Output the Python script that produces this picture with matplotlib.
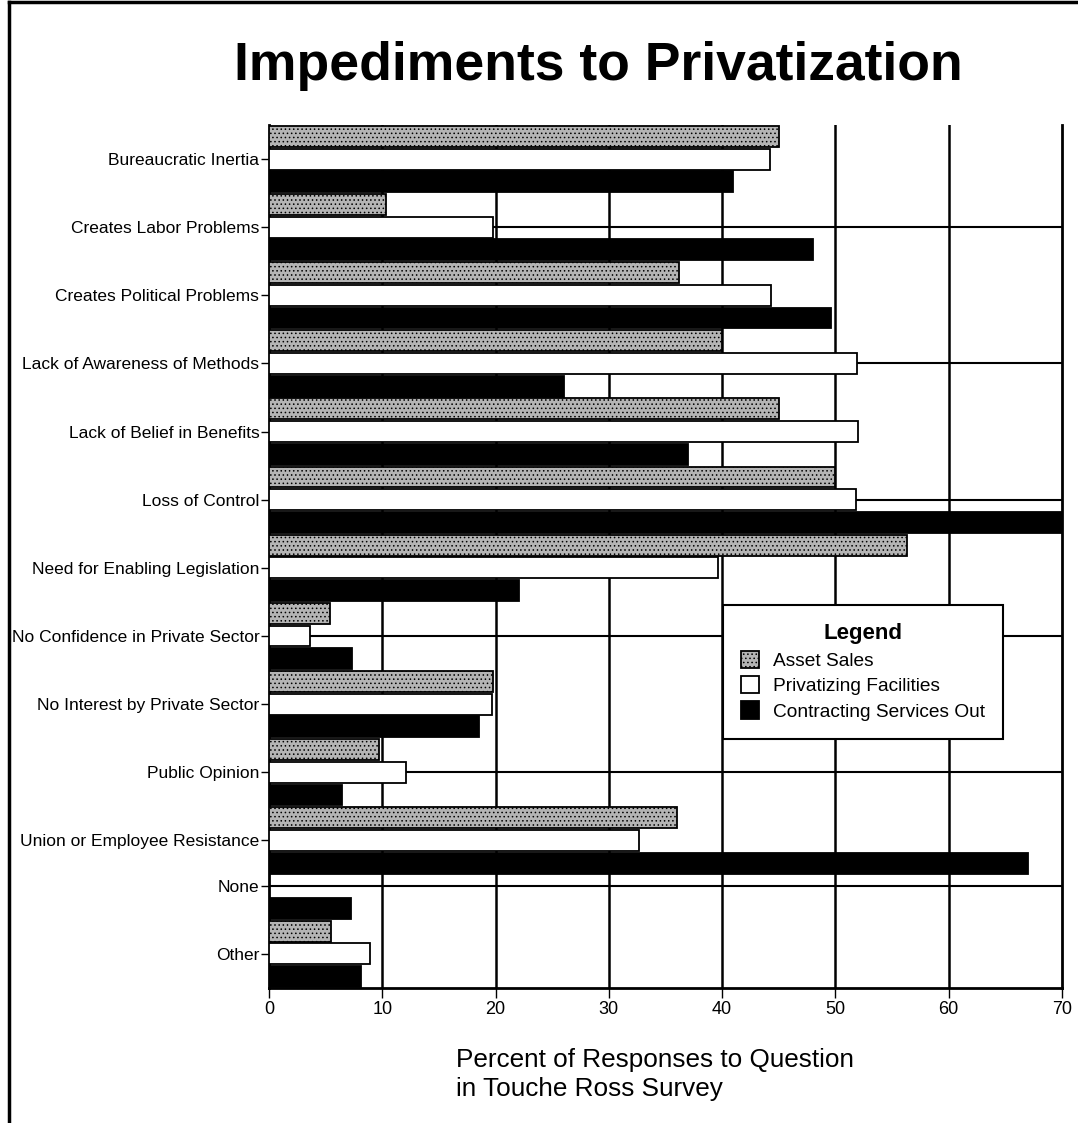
import matplotlib
matplotlib.use("Agg")
import matplotlib.pyplot as plt
from matplotlib.lines import Line2D

# Data (percent of responses)
categories = [
    "Bureaucratic Inertia",
    "Creates Labor Problems",
    "Creates Political Problems",
    "Lack of Awareness of Methods",
    "Lack of Belief in Benefits",
    "Loss of Control",
    "Need for Enabling Legislation",
    "No Confidence in Private Sector",
    "No Interest by Private Sector",
    "Public Opinion",
    "Union or Employee Resistance",
    "None",
    "Other",
]
asset_sales = [45, 10.3, 36.2, 40, 45, 50, 56.3, 5.4, 19.8, 9.7, 36, None, 5.5]
privatizing = [44.2, 19.8, 44.3, 51.9, 52, 51.8, 39.6, 3.6, 19.7, 12.1, 32.7, 0, 8.9]
contracting = [41, 48, 49.6, 26, 37, 70, 22.1, 7.3, 18.5, 6.4, 67, 7.2, 8.1]
series_names = ["Asset Sales", "Privatizing Facilities", "Contracting Services Out"]
x_ticks = [0, 10, 20, 30, 40, 50, 60, 70]

REGULAR = ["Liberation Sans", "DejaVu Sans"]
plt.rcParams["hatch.linewidth"] = 0.6

fig = plt.figure(figsize=(10.78, 11.23), dpi=100)
W, H = 1078, 1123
ax = fig.add_axes([269 / W, 1 - 988 / H, (1062 - 269) / W, (988 - 125) / H])

# every bar takes one slot, a missing value takes none
all_series = [asset_sales, privatizing, contracting]
ys = [[], [], []]
xs = [[], [], []]
tick_pos = []
slot = 0
for i in range(len(categories)):
    for s, series in enumerate(all_series):
        v = series[i]
        if v is None:
            continue
        ys[s].append(slot + 0.5)
        xs[s].append(v)
        if s == 1:
            tick_pos.append(slot + 0.5)
        slot += 1

styles = [
    dict(color="#b4b4b4", hatch="...."),
    dict(color="white", hatch=None),
    dict(color="black", hatch=None),
]
handles = []
for s in range(3):
    bars = ax.barh(ys[s], xs[s], height=0.92, color=styles[s]["color"],
                   edgecolor="black", linewidth=1.3, hatch=styles[s]["hatch"],
                   zorder=3, label=series_names[s])
    handles.append(bars)

ax.set_ylim(slot, 0)
ax.set_xlim(0, 70)

# grid lines behind the bars
for xv in x_ticks[1:-1]:
    ax.axvline(xv, color="black", linewidth=1.8, zorder=1)
for yv in tick_pos[1::2]:
    ax.axhline(yv, color="black", linewidth=1.5, zorder=1)

ax.set_yticks(tick_pos)
ax.set_yticklabels(categories, family=REGULAR, fontsize=12.5)
ax.set_xticks(x_ticks)
ax.set_xticklabels([str(t) for t in x_ticks], family=REGULAR, fontsize=13)
ax.tick_params(axis="y", length=6, width=1, pad=1)
ax.tick_params(axis="x", length=7, width=1, pad=2)

ax.spines["top"].set_visible(False)
for side in ["left", "bottom", "right"]:
    ax.spines[side].set_linewidth(2)

leg = ax.legend(handles=handles, title="Legend", loc="upper left",
                bbox_to_anchor=(723 / W, 1 - 605 / H), bbox_transform=fig.transFigure,
                borderaxespad=0, fancybox=False, framealpha=1, edgecolor="black",
                prop={"family": REGULAR, "size": 13.8},
                handlelength=0.95, handleheight=1.0, handletextpad=0.7,
                labelspacing=0.33, borderpad=0.95)
leg.get_frame().set_linewidth(1.5)
leg.get_title().set_fontfamily(REGULAR)
leg.get_title().set_fontweight("bold")
leg.get_title().set_fontsize(16)
leg.set_zorder(5)

fig.text(598 / W, 1 - 80 / H, "Impediments to Privatization", ha="center",
         va="baseline", family=REGULAR, fontweight="bold", fontsize=38.5)

fig.text(456 / W, 1 - 1048 / H, "Percent of Responses to Question\nin Touche Ross Survey",
         ha="left", va="top", family=REGULAR, fontsize=18.8, linespacing=1.28)

# page border of the scan
fig.add_artist(Line2D([9 / W, 9 / W], [0, 1 - 2 / H], color="black", linewidth=2.5))
fig.add_artist(Line2D([9 / W, 1], [1 - 2 / H, 1 - 2 / H], color="black", linewidth=2.5))

fig.savefig("out.png", dpi=100)
